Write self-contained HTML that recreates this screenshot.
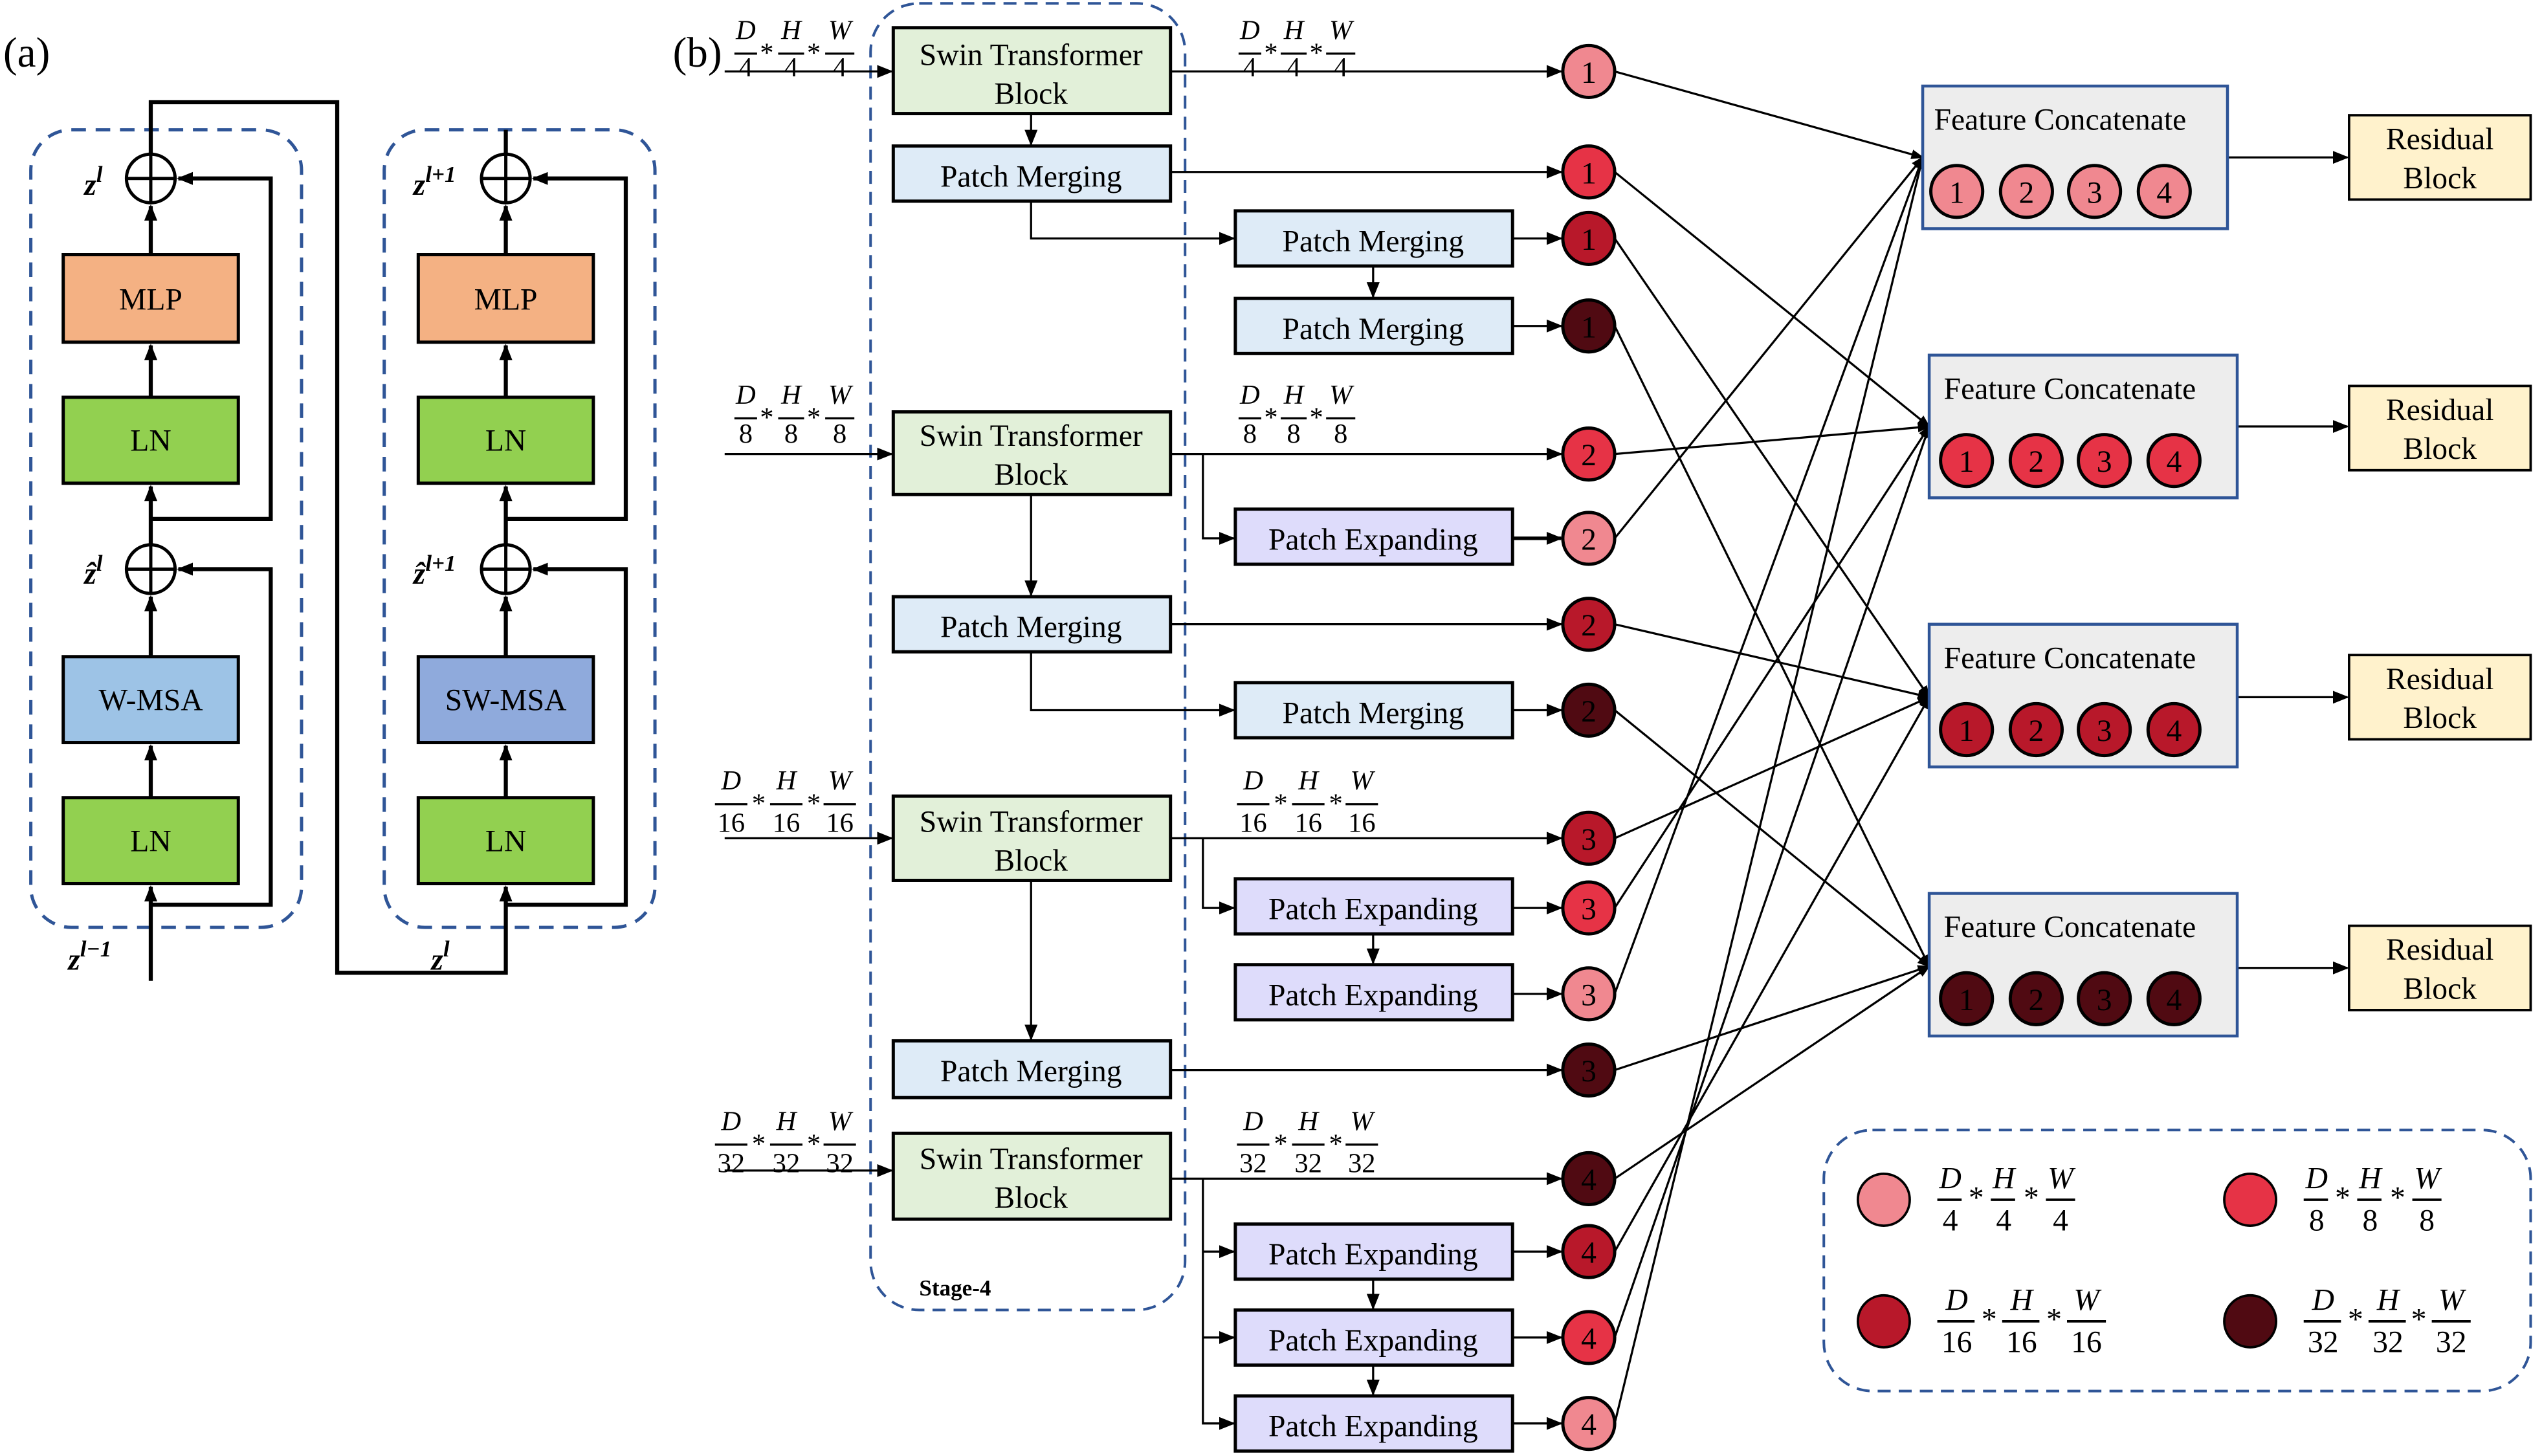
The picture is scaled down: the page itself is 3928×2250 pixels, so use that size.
<!DOCTYPE html>
<html><head><meta charset="utf-8"><style>
html,body{margin:0;padding:0;background:#fff}
svg{display:block}
text{font-family:"Liberation Serif",serif;fill:#000}
.b{font-size:19px}
.n{font-size:17px;font-style:italic}
.d{font-size:17px}
.c{font-size:19px;fill:#fff}
.m{font-family:"DejaVu Serif","Liberation Serif",serif;font-weight:bold;font-style:italic;font-size:19px}
</style></head><body>
<svg width="3928" height="2250" viewBox="0 0 1568 898" xmlns="http://www.w3.org/2000/svg">
<defs>
<marker id="a" markerWidth="10" markerHeight="10" refX="9" refY="5" orient="auto" markerUnits="userSpaceOnUse"><path d="M0,1 L10,5 L0,9 z" fill="#000"/></marker>
<marker id="s" markerWidth="8" markerHeight="8" refX="7" refY="4" orient="auto" markerUnits="userSpaceOnUse"><path d="M0,1 L8,4 L0,7 z" fill="#000"/></marker>
</defs>

<!-- (a) -->
<text x="2" y="41" style="font-size:26px">(a)</text>
<rect x="19" y="80" width="167" height="492" rx="25" fill="none" stroke="#2f5597" stroke-width="2" stroke-dasharray="9,6"/>
<rect x="237" y="80" width="167" height="492" rx="25" fill="none" stroke="#2f5597" stroke-width="2" stroke-dasharray="9,6"/>
<g stroke="#000" stroke-width="2.5" fill="none">
<line x1="93" y1="605" x2="93" y2="547" marker-end="url(#a)"/>
<line x1="93" y1="492" x2="93" y2="460" marker-end="url(#a)"/>
<line x1="93" y1="405" x2="93" y2="368" marker-end="url(#a)"/>
<line x1="93" y1="336" x2="93" y2="300" marker-end="url(#a)"/>
<line x1="93" y1="245" x2="93" y2="213" marker-end="url(#a)"/>
<line x1="93" y1="157" x2="93" y2="127" marker-end="url(#a)"/>
<polyline points="93,558 167,558 167,351 110,351" marker-end="url(#a)"/>
<polyline points="93,320 167,320 167,110 110,110" marker-end="url(#a)"/>
<polyline points="93,95 93,63 208,63 208,600 312,600 312,547" marker-end="url(#a)"/>
<line x1="312" y1="492" x2="312" y2="460" marker-end="url(#a)"/>
<line x1="312" y1="405" x2="312" y2="368" marker-end="url(#a)"/>
<line x1="312" y1="336" x2="312" y2="300" marker-end="url(#a)"/>
<line x1="312" y1="245" x2="312" y2="213" marker-end="url(#a)"/>
<line x1="312" y1="157" x2="312" y2="127" marker-end="url(#a)"/>
<polyline points="312,558 386,558 386,351 329,351" marker-end="url(#a)"/>
<polyline points="312,320 386,320 386,110 329,110" marker-end="url(#a)"/>
<line x1="312" y1="95" x2="312" y2="80"/>
</g>
<g stroke="#000" stroke-width="2">
<circle cx="93" cy="110" r="15" fill="#fff"/><line x1="78" y1="110" x2="108" y2="110"/><line x1="93" y1="95" x2="93" y2="125"/>
<circle cx="93" cy="351" r="15" fill="#fff"/><line x1="78" y1="351" x2="108" y2="351"/><line x1="93" y1="336" x2="93" y2="366"/>
<circle cx="312" cy="110" r="15" fill="#fff"/><line x1="297" y1="110" x2="327" y2="110"/><line x1="312" y1="95" x2="312" y2="125"/>
<circle cx="312" cy="351" r="15" fill="#fff"/><line x1="297" y1="351" x2="327" y2="351"/><line x1="312" y1="336" x2="312" y2="366"/>
<rect x="39" y="157" width="108" height="54" fill="#f4b183"/>
<rect x="39" y="245" width="108" height="53" fill="#92d050"/>
<rect x="39" y="405" width="108" height="53" fill="#9dc3e6"/>
<rect x="39" y="492" width="108" height="53" fill="#92d050"/>
<rect x="258" y="157" width="108" height="54" fill="#f4b183"/>
<rect x="258" y="245" width="108" height="53" fill="#92d050"/>
<rect x="258" y="405" width="108" height="53" fill="#8faadc"/>
<rect x="258" y="492" width="108" height="53" fill="#92d050"/>
</g>
<g class="b" text-anchor="middle">
<text x="93" y="191">MLP</text><text x="93" y="278">LN</text><text x="93" y="438">W-MSA</text><text x="93" y="525">LN</text>
<text x="312" y="191">MLP</text><text x="312" y="278">LN</text><text x="312" y="438">SW-MSA</text><text x="312" y="525">LN</text>
</g>
<g class="m">
<text x="52" y="120">z<tspan dy="-8" font-size="14">l</tspan></text>
<text x="52" y="360">ẑ<tspan dy="-8" font-size="14">l</tspan></text>
<text x="42" y="598">z<tspan dy="-8" font-size="14">l−1</tspan></text>
<text x="255" y="120">z<tspan dy="-8" font-size="14">l+1</tspan></text>
<text x="255" y="360">ẑ<tspan dy="-8" font-size="14">l+1</tspan></text>
<text x="266" y="598">z<tspan dy="-8" font-size="14">l</tspan></text>
</g>

<!-- (b) -->
<text x="415" y="41" style="font-size:26px">(b)</text>
<rect x="537" y="2" width="194" height="806" rx="30" fill="none" stroke="#2f5597" stroke-width="1.6" stroke-dasharray="8,5"/>
<text x="567" y="799" style="font-size:14px;font-weight:bold">Stage-4</text>

<g stroke="#000" stroke-width="1.3" fill="none">
<line x1="447" y1="44" x2="550" y2="44" marker-end="url(#a)"/>
<line x1="447" y1="280" x2="550" y2="280" marker-end="url(#a)"/>
<line x1="447" y1="517" x2="550" y2="517" marker-end="url(#a)"/>
<line x1="447" y1="722" x2="550" y2="722" marker-end="url(#a)"/>
<line x1="636" y1="70" x2="636" y2="89" marker-end="url(#a)"/>
<polyline points="636,124 636,147 761,147" marker-end="url(#a)"/>
<line x1="847" y1="164" x2="847" y2="183" marker-end="url(#a)"/>
<line x1="636" y1="305" x2="636" y2="367" marker-end="url(#a)"/>
<polyline points="636,402 636,438 761,438" marker-end="url(#a)"/>
<line x1="636" y1="543" x2="636" y2="641" marker-end="url(#a)"/>
<polyline points="742,280 742,332 761,332" marker-end="url(#a)"/>
<polyline points="742,517 742,560 761,560" marker-end="url(#a)"/>
<line x1="847" y1="576" x2="847" y2="594" marker-end="url(#a)"/>
<polyline points="742,727 742,878 761,878" marker-end="url(#a)"/>
<line x1="742" y1="772" x2="761" y2="772" marker-end="url(#a)"/>
<line x1="742" y1="825" x2="761" y2="825" marker-end="url(#a)"/>
<line x1="847" y1="789" x2="847" y2="807" marker-end="url(#a)"/>
<line x1="847" y1="842" x2="847" y2="860" marker-end="url(#a)"/>
<line x1="722" y1="44" x2="963" y2="44" marker-end="url(#a)"/>
<line x1="722" y1="106" x2="963" y2="106" marker-end="url(#a)"/>
<line x1="933" y1="147" x2="963" y2="147" marker-end="url(#a)"/>
<line x1="933" y1="201" x2="963" y2="201" marker-end="url(#a)"/>
<line x1="722" y1="280" x2="963" y2="280" marker-end="url(#a)"/>
<line x1="933" y1="332" x2="963" y2="332" marker-end="url(#a)" stroke-width="2.2"/>
<line x1="722" y1="385" x2="963" y2="385" marker-end="url(#a)"/>
<line x1="933" y1="438" x2="963" y2="438" marker-end="url(#a)"/>
<line x1="722" y1="517" x2="963" y2="517" marker-end="url(#a)"/>
<line x1="933" y1="560" x2="963" y2="560" marker-end="url(#a)"/>
<line x1="933" y1="613" x2="963" y2="613" marker-end="url(#a)"/>
<line x1="722" y1="660" x2="963" y2="660" marker-end="url(#a)"/>
<line x1="722" y1="727" x2="963" y2="727" marker-end="url(#a)"/>
<line x1="933" y1="772" x2="963" y2="772" marker-end="url(#a)"/>
<line x1="933" y1="825" x2="963" y2="825" marker-end="url(#a)"/>
<line x1="933" y1="878" x2="963" y2="878" marker-end="url(#a)"/>
<line x1="996" y1="44" x2="1186" y2="97" marker-end="url(#s)"/>
<line x1="996" y1="332" x2="1186" y2="97" marker-end="url(#s)"/>
<line x1="996" y1="613" x2="1186" y2="97" marker-end="url(#s)"/>
<line x1="996" y1="878" x2="1186" y2="97" marker-end="url(#s)"/>
<line x1="996" y1="106" x2="1190" y2="263" marker-end="url(#s)"/>
<line x1="996" y1="280" x2="1190" y2="263" marker-end="url(#s)"/>
<line x1="996" y1="560" x2="1190" y2="263" marker-end="url(#s)"/>
<line x1="996" y1="825" x2="1190" y2="263" marker-end="url(#s)"/>
<line x1="996" y1="147" x2="1190" y2="430" marker-end="url(#s)"/>
<line x1="996" y1="385" x2="1190" y2="430" marker-end="url(#s)"/>
<line x1="996" y1="517" x2="1190" y2="430" marker-end="url(#s)"/>
<line x1="996" y1="772" x2="1190" y2="430" marker-end="url(#s)"/>
<line x1="996" y1="201" x2="1190" y2="596" marker-end="url(#s)"/>
<line x1="996" y1="438" x2="1190" y2="596" marker-end="url(#s)"/>
<line x1="996" y1="660" x2="1190" y2="596" marker-end="url(#s)"/>
<line x1="996" y1="727" x2="1190" y2="596" marker-end="url(#s)"/>
<line x1="1374" y1="97" x2="1448" y2="97" marker-end="url(#a)"/>
<line x1="1380" y1="263" x2="1448" y2="263" marker-end="url(#a)"/>
<line x1="1380" y1="430" x2="1448" y2="430" marker-end="url(#a)"/>
<line x1="1380" y1="597" x2="1448" y2="597" marker-end="url(#a)"/>
</g>

<g stroke="#000" stroke-width="2">
<rect x="551" y="17" width="171" height="53" fill="#e2f0d9"/>
<rect x="551" y="90" width="171" height="34" fill="#deebf7"/>
<rect x="551" y="254" width="171" height="51" fill="#e2f0d9"/>
<rect x="551" y="368" width="171" height="34" fill="#deebf7"/>
<rect x="551" y="491" width="171" height="52" fill="#e2f0d9"/>
<rect x="551" y="642" width="171" height="35" fill="#deebf7"/>
<rect x="551" y="699" width="171" height="53" fill="#e2f0d9"/>
<rect x="762" y="130" width="171" height="34" fill="#deebf7"/>
<rect x="762" y="184" width="171" height="34" fill="#deebf7"/>
<rect x="762" y="314" width="171" height="34" fill="#dedcfb"/>
<rect x="762" y="421" width="171" height="34" fill="#deebf7"/>
<rect x="762" y="542" width="171" height="34" fill="#dedcfb"/>
<rect x="762" y="595" width="171" height="34" fill="#dedcfb"/>
<rect x="762" y="755" width="171" height="34" fill="#dedcfb"/>
<rect x="762" y="808" width="171" height="34" fill="#dedcfb"/>
<rect x="762" y="861" width="171" height="34" fill="#dedcfb"/>
</g>
<g class="b" text-anchor="middle">
<text x="636" y="40">Swin Transformer</text><text x="636" y="64">Block</text>
<text x="636" y="115">Patch Merging</text>
<text x="636" y="275">Swin Transformer</text><text x="636" y="299">Block</text>
<text x="636" y="393">Patch Merging</text>
<text x="636" y="513">Swin Transformer</text><text x="636" y="537">Block</text>
<text x="636" y="667">Patch Merging</text>
<text x="636" y="721">Swin Transformer</text><text x="636" y="745">Block</text>
<text x="847" y="155">Patch Merging</text>
<text x="847" y="209">Patch Merging</text>
<text x="847" y="339">Patch Expanding</text>
<text x="847" y="446">Patch Merging</text>
<text x="847" y="567">Patch Expanding</text>
<text x="847" y="620">Patch Expanding</text>
<text x="847" y="780">Patch Expanding</text>
<text x="847" y="833">Patch Expanding</text>
<text x="847" y="886">Patch Expanding</text>
</g>

<g stroke="#000" stroke-width="2">
<circle cx="980" cy="44" r="16" fill="#f08890"/>
<circle cx="980" cy="106" r="16" fill="#e63346"/>
<circle cx="980" cy="147" r="16" fill="#b8182a"/>
<circle cx="980" cy="201" r="16" fill="#500a12"/>
<circle cx="980" cy="280" r="16" fill="#e63346"/>
<circle cx="980" cy="332" r="16" fill="#f08890"/>
<circle cx="980" cy="385" r="16" fill="#b8182a"/>
<circle cx="980" cy="438" r="16" fill="#500a12"/>
<circle cx="980" cy="517" r="16" fill="#b8182a"/>
<circle cx="980" cy="560" r="16" fill="#e63346"/>
<circle cx="980" cy="613" r="16" fill="#f08890"/>
<circle cx="980" cy="660" r="16" fill="#500a12"/>
<circle cx="980" cy="727" r="16" fill="#500a12"/>
<circle cx="980" cy="772" r="16" fill="#b8182a"/>
<circle cx="980" cy="825" r="16" fill="#e63346"/>
<circle cx="980" cy="878" r="16" fill="#f08890"/>
</g>
<g class="c" text-anchor="middle">
<text x="980" y="51">1</text><text x="980" y="113">1</text><text x="980" y="154">1</text><text x="980" y="208">1</text>
<text x="980" y="287">2</text><text x="980" y="339">2</text><text x="980" y="392">2</text><text x="980" y="445">2</text>
<text x="980" y="524">3</text><text x="980" y="567">3</text><text x="980" y="620">3</text><text x="980" y="667">3</text>
<text x="980" y="734">4</text><text x="980" y="779">4</text><text x="980" y="832">4</text><text x="980" y="885">4</text>
</g>

<g stroke="#2f5597" stroke-width="1.8" fill="#ededed">
<rect x="1186" y="53" width="188" height="88"/>
<rect x="1190" y="219" width="190" height="88"/>
<rect x="1190" y="385" width="190" height="88"/>
<rect x="1190" y="551" width="190" height="88"/>
</g>
<g class="b">
<text x="1193" y="80">Feature Concatenate</text>
<text x="1199" y="246">Feature Concatenate</text>
<text x="1199" y="412">Feature Concatenate</text>
<text x="1199" y="578">Feature Concatenate</text>
</g>
<g stroke="#000" stroke-width="2">
<circle cx="1207" cy="118" r="16" fill="#f08890"/><circle cx="1250" cy="118" r="16" fill="#f08890"/><circle cx="1292" cy="118" r="16" fill="#f08890"/><circle cx="1335" cy="118" r="16" fill="#f08890"/>
<circle cx="1213" cy="284" r="16" fill="#e63346"/><circle cx="1256" cy="284" r="16" fill="#e63346"/><circle cx="1298" cy="284" r="16" fill="#e63346"/><circle cx="1341" cy="284" r="16" fill="#e63346"/>
<circle cx="1213" cy="450" r="16" fill="#b8182a"/><circle cx="1256" cy="450" r="16" fill="#b8182a"/><circle cx="1298" cy="450" r="16" fill="#b8182a"/><circle cx="1341" cy="450" r="16" fill="#b8182a"/>
<circle cx="1213" cy="616" r="16" fill="#500a12"/><circle cx="1256" cy="616" r="16" fill="#500a12"/><circle cx="1298" cy="616" r="16" fill="#500a12"/><circle cx="1341" cy="616" r="16" fill="#500a12"/>
</g>
<g class="c" text-anchor="middle">
<text x="1207" y="125">1</text><text x="1250" y="125">2</text><text x="1292" y="125">3</text><text x="1335" y="125">4</text>
<text x="1213" y="291">1</text><text x="1256" y="291">2</text><text x="1298" y="291">3</text><text x="1341" y="291">4</text>
<text x="1213" y="457">1</text><text x="1256" y="457">2</text><text x="1298" y="457">3</text><text x="1341" y="457">4</text>
<text x="1213" y="623">1</text><text x="1256" y="623">2</text><text x="1298" y="623">3</text><text x="1341" y="623">4</text>
</g>

<g stroke="#000" stroke-width="1.5" fill="#fff2cc">
<rect x="1449" y="71" width="112" height="52"/>
<rect x="1449" y="238" width="112" height="52"/>
<rect x="1449" y="404" width="112" height="52"/>
<rect x="1449" y="571" width="112" height="52"/>
</g>
<g class="b" text-anchor="middle">
<text x="1505" y="92">Residual</text><text x="1505" y="116">Block</text>
<text x="1505" y="259">Residual</text><text x="1505" y="283">Block</text>
<text x="1505" y="425">Residual</text><text x="1505" y="449">Block</text>
<text x="1505" y="592">Residual</text><text x="1505" y="616">Block</text>
</g>

<g text-anchor="middle">
<g stroke="#000" stroke-width="1.3">
<line x1="453" y1="33" x2="467" y2="33"/><line x1="480" y1="33" x2="496" y2="33"/><line x1="509" y1="33" x2="527" y2="33"/>
<line x1="764" y1="33" x2="778" y2="33"/><line x1="790" y1="33" x2="806" y2="33"/><line x1="818" y1="33" x2="836" y2="33"/>
<line x1="453" y1="258" x2="467" y2="258"/><line x1="480" y1="258" x2="496" y2="258"/><line x1="509" y1="258" x2="527" y2="258"/>
<line x1="764" y1="258" x2="778" y2="258"/><line x1="790" y1="258" x2="806" y2="258"/><line x1="818" y1="258" x2="836" y2="258"/>
<line x1="441" y1="496" x2="461" y2="496"/><line x1="475" y1="496" x2="495" y2="496"/><line x1="508" y1="496" x2="528" y2="496"/>
<line x1="763" y1="496" x2="783" y2="496"/><line x1="797" y1="496" x2="817" y2="496"/><line x1="830" y1="496" x2="850" y2="496"/>
<line x1="441" y1="706" x2="461" y2="706"/><line x1="475" y1="706" x2="495" y2="706"/><line x1="508" y1="706" x2="528" y2="706"/>
<line x1="763" y1="706" x2="783" y2="706"/><line x1="797" y1="706" x2="817" y2="706"/><line x1="830" y1="706" x2="850" y2="706"/>
</g>
<g class="n">
<text x="460" y="24">D</text><text x="488" y="24">H</text><text x="518" y="24">W</text>
<text x="771" y="24">D</text><text x="798" y="24">H</text><text x="827" y="24">W</text>
<text x="460" y="249">D</text><text x="488" y="249">H</text><text x="518" y="249">W</text>
<text x="771" y="249">D</text><text x="798" y="249">H</text><text x="827" y="249">W</text>
<text x="451" y="487">D</text><text x="485" y="487">H</text><text x="518" y="487">W</text>
<text x="773" y="487">D</text><text x="807" y="487">H</text><text x="840" y="487">W</text>
<text x="451" y="697">D</text><text x="485" y="697">H</text><text x="518" y="697">W</text>
<text x="773" y="697">D</text><text x="807" y="697">H</text><text x="840" y="697">W</text>
</g>
<g class="d">
<text x="460" y="47">4</text><text x="473" y="38">*</text><text x="488" y="47">4</text><text x="502" y="38">*</text><text x="518" y="47">4</text>
<text x="771" y="47">4</text><text x="784" y="38">*</text><text x="798" y="47">4</text><text x="812" y="38">*</text><text x="827" y="47">4</text>
<text x="460" y="273">8</text><text x="473" y="263">*</text><text x="488" y="273">8</text><text x="502" y="263">*</text><text x="518" y="273">8</text>
<text x="771" y="273">8</text><text x="784" y="263">*</text><text x="798" y="273">8</text><text x="812" y="263">*</text><text x="827" y="273">8</text>
<text x="451" y="513">16</text><text x="468" y="501">*</text><text x="485" y="513">16</text><text x="502" y="501">*</text><text x="518" y="513">16</text>
<text x="773" y="513">16</text><text x="790" y="501">*</text><text x="807" y="513">16</text><text x="824" y="501">*</text><text x="840" y="513">16</text>
<text x="451" y="723">32</text><text x="468" y="711">*</text><text x="485" y="723">32</text><text x="502" y="711">*</text><text x="518" y="723">32</text>
<text x="773" y="723">32</text><text x="790" y="711">*</text><text x="807" y="723">32</text><text x="824" y="711">*</text><text x="840" y="723">32</text>
</g>
</g>

<rect x="1125" y="697" width="436" height="161" rx="30" fill="none" stroke="#2f5597" stroke-width="1.6" stroke-dasharray="8,5"/>
<g stroke="#000" stroke-width="1.5">
<circle cx="1162" cy="740" r="16" fill="#f08890"/>
<circle cx="1388" cy="740" r="16" fill="#e63346"/>
<circle cx="1162" cy="815" r="16" fill="#b8182a"/>
<circle cx="1388" cy="815" r="16" fill="#500a12"/>
<line x1="1195" y1="740" x2="1210" y2="740"/><line x1="1228" y1="740" x2="1243" y2="740"/><line x1="1262" y1="740" x2="1280" y2="740"/>
<line x1="1421" y1="740" x2="1436" y2="740"/><line x1="1454" y1="740" x2="1469" y2="740"/><line x1="1488" y1="740" x2="1506" y2="740"/>
<line x1="1195" y1="815" x2="1218" y2="815"/><line x1="1235" y1="815" x2="1258" y2="815"/><line x1="1275" y1="815" x2="1299" y2="815"/>
<line x1="1421" y1="815" x2="1444" y2="815"/><line x1="1461" y1="815" x2="1484" y2="815"/><line x1="1500" y1="815" x2="1524" y2="815"/>
</g>
<g text-anchor="middle" style="font-size:19px">
<g font-style="italic">
<text x="1203" y="733">D</text><text x="1236" y="733">H</text><text x="1271" y="733">W</text>
<text x="1429" y="733">D</text><text x="1462" y="733">H</text><text x="1497" y="733">W</text>
<text x="1207" y="808">D</text><text x="1247" y="808">H</text><text x="1287" y="808">W</text>
<text x="1433" y="808">D</text><text x="1473" y="808">H</text><text x="1512" y="808">W</text>
</g>
<text x="1203" y="759">4</text><text x="1219" y="745">*</text><text x="1236" y="759">4</text><text x="1253" y="745">*</text><text x="1271" y="759">4</text>
<text x="1429" y="759">8</text><text x="1445" y="745">*</text><text x="1462" y="759">8</text><text x="1479" y="745">*</text><text x="1497" y="759">8</text>
<text x="1207" y="834">16</text><text x="1227" y="820">*</text><text x="1247" y="834">16</text><text x="1267" y="820">*</text><text x="1287" y="834">16</text>
<text x="1433" y="834">32</text><text x="1453" y="820">*</text><text x="1473" y="834">32</text><text x="1492" y="820">*</text><text x="1512" y="834">32</text>
</g>
</svg>
</body></html>
